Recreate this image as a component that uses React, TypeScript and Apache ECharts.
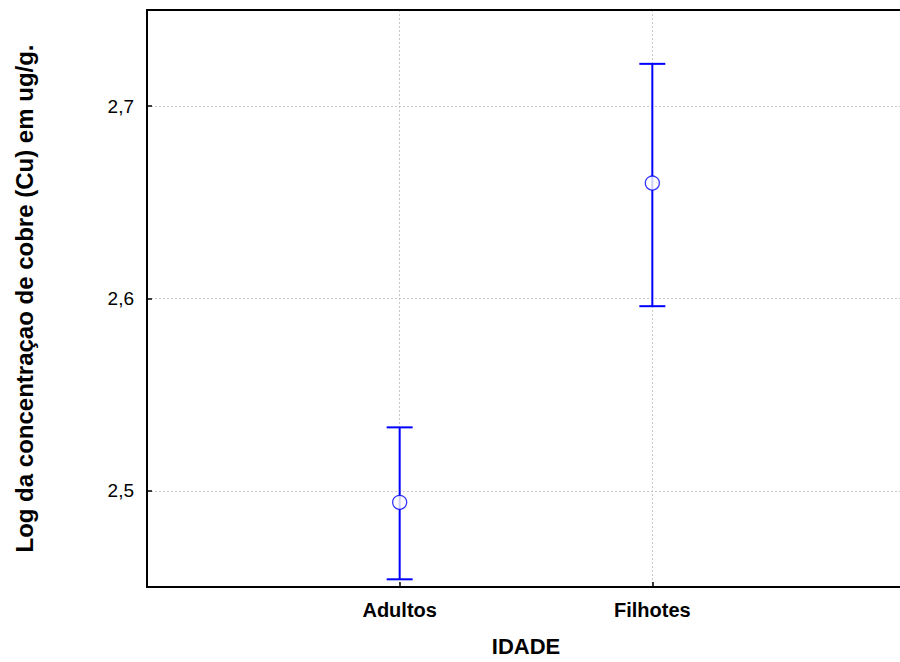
import React, { useEffect, useRef } from "react";
import * as echarts from "echarts";

const categories = ["Adultos", "Filhotes"];
const positions = [1, 2];
const means = [2.494, 2.66];
const lowers = [2.454, 2.596];
const uppers = [2.533, 2.722];
const yTicks = [2.5, 2.6, 2.7];

export default function App() {
  const ref = useRef<HTMLDivElement>(null);
  useEffect(() => {
    if (!ref.current) return;
    const chart = echarts.init(ref.current, null, { renderer: "svg" });
    const blue = "#0000ff";
    const font = "Liberation Sans, Arial, sans-serif";
    const errData = positions.map((p, i) => [p, lowers[i], uppers[i]]);
    const meanData = positions.map((p, i) => [p, means[i]]);
    chart.setOption({
      animation: false,
      backgroundColor: "#ffffff",
      textStyle: { fontFamily: font },
      grid: { left: 147, right: -5, top: 10, bottom: 75, containLabel: false, outerBoundsMode: "none" },
      xAxis: [
        {
          type: "value",
          min: 0,
          max: 3,
          interval: 1,
          name: "IDADE",
          nameLocation: "middle",
          nameGap: 48,
          nameTextStyle: { fontSize: 22, fontWeight: "bold", color: "#000", fontFamily: font },
          axisLine: { show: true, onZero: false, lineStyle: { color: "#000", width: 2 } },
          axisTick: { show: true, inside: true, length: 5, customValues: positions, lineStyle: { color: "#000", width: 1.5 } },
          axisLabel: {
            customValues: positions,
            margin: 13,
            fontSize: 20,
            fontWeight: "bold",
            color: "#000",
            fontFamily: font,
            formatter: (v: number) => categories[positions.indexOf(v)] ?? "",
          },
          splitLine: { show: true, lineStyle: { color: "#c8c8c8", type: [2, 2], width: 1 } },
        },
        {
          type: "value",
          position: "top",
          min: 0,
          max: 3,
          axisLine: { show: true, lineStyle: { color: "#000", width: 2 } },
          axisTick: { show: false },
          axisLabel: { show: false },
          splitLine: { show: false },
        },
      ],
      yAxis: {
        type: "value",
        min: 2.45,
        max: 2.75,
        name: "Log da concentraçao de cobre (Cu) em ug/g.",
        nameLocation: "middle",
        nameGap: 111,
        nameTextStyle: { fontSize: 24, fontWeight: "bold", color: "#000", fontFamily: font },
        axisLine: { show: true, onZero: false, lineStyle: { color: "#000", width: 2 } },
        axisTick: { show: true, inside: true, length: 5, customValues: yTicks, lineStyle: { color: "#000", width: 1.5 } },
        axisLabel: {
          customValues: yTicks,
          margin: 13,
          fontSize: 19,
          color: "#000",
          fontFamily: font,
          formatter: (v: number) => v.toFixed(1).replace(".", ","),
        },
        splitLine: { show: true, lineStyle: { color: "#c8c8c8", type: [2, 2], width: 1 } },
      },
      series: [
        {
          type: "custom",
          xAxisIndex: 0,
          data: errData,
          renderItem: (params: any, api: any) => {
            const x = api.value(0);
            const lo = api.coord([x, api.value(1)]);
            const hi = api.coord([x, api.value(2)]);
            const w = 13;
            const style = { stroke: blue, lineWidth: 2 };
            return {
              type: "group",
              children: [
                { type: "line", shape: { x1: lo[0], y1: lo[1], x2: hi[0], y2: hi[1] }, style },
                { type: "line", shape: { x1: lo[0] - w, y1: lo[1], x2: lo[0] + w, y2: lo[1] }, style },
                { type: "line", shape: { x1: hi[0] - w, y1: hi[1], x2: hi[0] + w, y2: hi[1] }, style },
              ],
            };
          },
          z: 2,
        },
        {
          type: "scatter",
          xAxisIndex: 0,
          data: meanData,
          symbol: "circle",
          symbolSize: 14,
          itemStyle: { color: "#ffffff", borderColor: blue, borderWidth: 1.3 },
          z: 3,
        },
      ],
    });
    return () => chart.dispose();
  }, []);
  return (
    <div
      ref={ref}
      style={{ position: "absolute", left: 0, top: 0, width: 900, height: 662, background: "#fff" }}
    />
  );
}
